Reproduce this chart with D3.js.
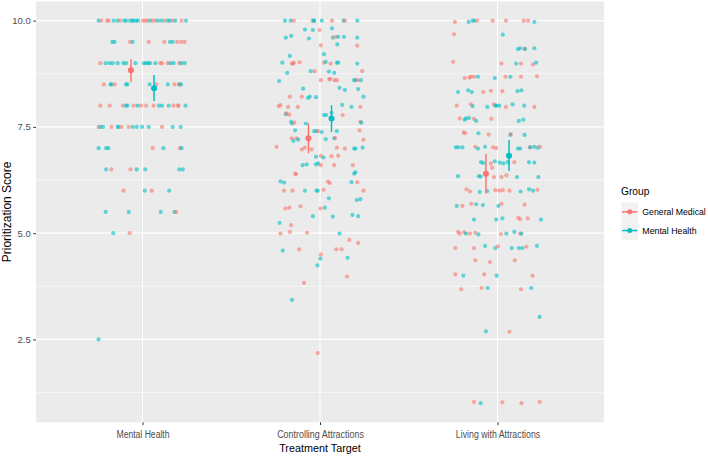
<!DOCTYPE html>
<html><head><meta charset="utf-8">
<script src="https://cdn.jsdelivr.net/npm/d3@7"></script>
<style>body{margin:0;background:#fff;} text{font-family:"Liberation Sans",Arial,sans-serif;}</style>
</head><body><svg id="c" width="708" height="456"></svg>
<script>
const categories = ["Mental Health","Controlling Attractions","Living with Attractions"];
const groups = ["General Medical","Mental Health"];
const groupColors = ["#F8766D","#00BFC4"];
const yTicks = [2.5, 5.0, 7.5, 10.0];
const yMinor = [1.25, 3.75, 6.25, 8.75];

// jittered points: [jitter (fraction of ±0.25 category width), score, group index]
const ptsMentalHealth = [
[-0.99,10,1],[-0.93,10,0],[-0.80,10,0],[-0.76,10,0],[-0.65,10,1],[-0.56,10,1],[-0.50,10,0],[-0.41,10,1],[-0.37,10,1],[-0.28,10,1],[-0.23,10,1],[-0.20,10,1],[-0.14,10,1],[-0.10,10,1],[0.01,10,0],[0.06,10,0],[0.11,10,0],[0.17,10,1],[0.23,10,0],[0.29,10,0],[0.35,10,1],[0.43,10,1],[0.50,10,0],[0.57,10,1],[0.62,10,1],[0.68,10,0],[0.74,10,1],[0.88,10,0],[0.98,10,1],
[-0.68,9.5,1],[-0.63,9.5,1],[-0.28,9.5,0],[-0.22,9.5,1],[0.14,9.5,0],[0.49,9.5,0],[0.62,9.5,1],[0.68,9.5,1],[0.78,9.5,0],[0.87,9.5,0],[0.95,9.5,0],
[-0.95,9,0],[-0.83,9,1],[-0.74,9,1],[-0.67,9,1],[-0.56,9,1],[-0.43,9,1],[-0.37,9,1],[-0.16,9,1],[0.03,9,1],[0.08,9,1],[0.13,9,1],[0.17,9,1],[0.29,9,1],[0.40,9,0],[0.44,9,0],[0.57,9,0],[0.63,9,1],[0.70,9,1],[0.83,9,0],[0.87,9,1],[0.95,9,1],
[-0.87,8.5,0],[-0.72,8.5,1],[-0.70,8.5,1],[-0.63,8.5,0],[-0.37,8.5,1],[-0.34,8.5,1],[0.16,8.5,1],[0.31,8.5,0],[0.57,8.5,1],[0.72,8.5,0],[0.82,8.5,1],[0.84,8.5,0],[0.87,8.5,1],
[-0.95,8,0],[-0.74,8,0],[-0.44,8,0],[-0.37,8,1],[-0.34,8,1],[-0.20,8,0],[-0.11,8,1],[-0.03,8,0],[0.08,8,0],[0.25,8,0],[0.37,8,1],[0.44,8,1],[0.59,8,1],[0.70,8,0],[0.80,8,0],[0.81,8,0],[0.97,8,1],
[-0.99,7.5,0],[-0.95,7.5,1],[-0.89,7.5,1],[-0.70,7.5,0],[-0.56,7.5,1],[-0.54,7.5,1],[-0.47,7.5,0],[-0.31,7.5,0],[-0.22,7.5,1],[-0.13,7.5,1],[-0.01,7.5,1],[0.14,7.5,1],[0.44,7.5,0],[0.68,7.5,1],[0.86,7.5,1],
[-0.99,7,1],[-0.82,7,1],[-0.77,7,1],[0.23,7,0],[0.47,7,1],[0.84,7,0],[0.88,7,1],
[-0.82,6.5,1],[-0.70,6.5,0],[-0.27,6.5,0],[-0.13,6.5,1],[0.06,6.5,1],[0.83,6.5,1],[0.91,6.5,1],
[-0.43,6,0],[0.05,6,1],[0.21,6,0],[0.60,6,1],
[-0.83,5.5,1],[-0.31,5.5,1],[0.41,5.5,1],[0.72,5.5,1],[0.76,5.5,0],
[-0.66,5,1],[-0.29,5,0],
[-0.99,2.5,1]
];
const ptsControlling = [
[-0.79,10,1],[-0.66,10,1],[-0.59,10,0],[-0.17,10,0],[-0.14,10,1],[-0.13,10,1],[0.04,10,1],[0.27,10,0],[0.53,10,1],[0.56,10,0],[0.84,10,1],
[-0.34,9.79,1],[-0.16,9.78,1],[-0.01,9.78,0],[0.27,9.82,1],
[-0.77,9.60,1],[-0.65,9.64,1],[-0.25,9.58,1],[0.29,9.60,1],[0.35,9.62,0],[0.41,9.62,1],[0.54,9.62,1],[0.84,9.60,1],
[0.02,9.42,0],[0.39,9.44,1],[0.84,9.41,0],
[-0.68,9.17,1],[0.09,9.21,1],
[-0.85,9.01,1],[-0.63,8.99,0],[-0.61,8.99,0],[-0.59,9.01,0],[-0.46,9.02,0],[0.09,9.01,0],[0.13,9.03,1],[0.24,8.99,0],[0.38,9.01,1],[0.41,9.01,1],[0.84,8.99,1],
[-0.74,8.77,1],[-0.21,8.81,1],[-0.12,8.81,0],[0.20,8.80,1],[0.32,8.77,1],[0.95,8.81,0],
[-0.92,8.58,1],[0.02,8.60,0],[0.21,8.62,0],[0.23,8.63,0],[0.33,8.60,0],[0.38,8.60,0],[0.77,8.60,1],[0.80,8.60,1],[0.84,8.60,0],[0.92,8.60,1],
[-0.38,8.40,1],[0.44,8.42,1],[0.56,8.37,1],[0.86,8.39,1],
[-0.68,8.21,0],[-0.41,8.21,0],[-0.27,8.18,1],[-0.23,8.21,1],[-0.09,8.20,1],[0.98,8.21,1],
[-0.93,7.99,0],[-0.89,8.01,0],[-0.72,7.97,0],[-0.50,7.97,0],[0.50,8.02,1],[0.71,7.97,1],[0.91,7.97,0],
[-0.77,7.80,1],[-0.76,7.82,0],[-0.69,7.79,0],[0.09,7.78,1],[0.14,7.78,1],[0.26,7.83,1],[0.51,7.78,0],
[-0.65,7.62,1],[-0.63,7.58,1],[-0.58,7.60,0],[-0.32,7.58,1],[0.91,7.62,0],[0.93,7.60,1],
[-0.56,7.42,1],[-0.13,7.40,1],[-0.08,7.40,1],[-0.04,7.40,0],[0.04,7.38,1],[0.38,7.40,1],[0.89,7.42,0],
[-0.64,7.23,0],[-0.60,7.17,1],[-0.53,7.23,0],[-0.49,7.20,1],[0.13,7.21,1],[0.32,7.23,1],[0.34,7.24,0],[0.98,7.20,0],
[-0.98,7.03,0],[-0.41,6.97,0],[-0.34,7.01,0],[-0.19,6.97,0],[0.38,7.01,0],[0.56,6.99,0],[0.77,6.99,1],[0.80,6.99,1],[0.96,7.01,1],
[-0.09,6.80,1],[0.02,6.82,0],[0.08,6.78,1],[0.26,6.81,0],[0.41,6.82,0],
[-0.39,6.60,1],[-0.30,6.62,1],[-0.09,6.62,1],[-0.04,6.64,1],[0.02,6.60,0],[0.32,6.60,0],[0.74,6.60,0],
[-0.56,6.40,0],[-0.54,6.39,0],[0.77,6.40,1],[0.80,6.43,1],
[-0.89,6.22,1],[-0.81,6.19,1],[0.18,6.21,0],[0.22,6.18,0],[0.71,6.20,1],[0.84,6.20,0],
[-0.81,6.00,0],[-0.62,6.00,0],[-0.34,6.00,1],[-0.08,6.00,1],[-0.05,6.00,1],[0.08,6.02,0],[0.98,6.00,0],
[0.20,5.82,1],[0.83,5.78,1],[0.91,5.80,1],
[-0.78,5.58,0],[-0.69,5.60,0],[-0.44,5.63,0],[0.01,5.58,0],[0.11,5.60,1],
[-0.16,5.40,1],[0.29,5.39,1],[0.73,5.43,1],[0.86,5.40,1],
[-0.91,5.24,1],[-0.65,5.19,0],
[-0.89,4.99,0],[-0.68,5.03,0],[-0.29,5.01,0],[0.44,4.99,1],[0.66,4.84,0],[0.86,4.77,0],
[-0.84,4.59,1],[-0.47,4.62,0],[0.37,4.62,0],[0.49,4.62,0],[0.02,4.50,0],[0.01,4.40,1],[0.62,4.42,1],[-0.06,4.24,1],
[0.61,3.98,0],[-0.36,3.83,0],[-0.63,3.43,1],[-0.05,2.18,0]
];
const ptsLiving = [
[-0.96,9.97,0],[-0.65,9.97,1],[-0.56,10,1],[-0.52,10,1],[-0.46,10,0],[-0.11,10,0],[0.19,10,0],[0.59,10,0],[0.69,10,0],[0.83,9.97,1],
[-0.98,9.68,0],[0.12,9.67,1],
[0.46,9.33,1],[0.51,9.35,1],[0.61,9.34,0],[0.62,9.33,1],[0.83,9.35,1],
[-1.0,9.03,0],[0.09,8.99,0],[0.42,8.99,1],[0.53,8.99,0],[0.80,8.97,0],[0.87,9.01,1],
[-0.74,8.65,0],[-0.63,8.66,0],[-0.60,8.68,0],[-0.53,8.68,0],[-0.44,8.68,1],[-0.06,8.65,1],[0.18,8.68,0],[0.29,8.68,1],[0.53,8.68,0],[0.89,8.69,0],
[-0.89,8.32,1],[-0.66,8.36,1],[-0.58,8.32,1],[-0.32,8.32,0],[-0.15,8.35,0],[0.11,8.34,0],[0.45,8.34,1],[0.54,8.36,1],
[-0.92,8.00,0],[-0.60,8.03,0],[-0.56,7.99,1],[-0.23,7.97,1],[-0.08,8.03,0],[-0.05,8.00,1],[-0.02,8.00,1],[0.04,8.00,1],[0.19,7.97,0],[0.34,8.03,1],[0.60,8.00,1],[0.83,7.97,0],
[-0.85,7.70,0],[-0.74,7.67,1],[-0.71,7.70,1],[-0.64,7.71,1],[-0.53,7.69,0],[-0.48,7.64,1],[-0.14,7.69,0],[0.48,7.64,1],[0.58,7.67,1],
[-0.76,7.37,0],[-0.73,7.35,0],[-0.43,7.35,1],[-0.20,7.32,0],[0.29,7.31,1],[0.30,7.33,0],[0.61,7.31,1],
[-0.94,7.02,1],[-0.88,7.02,1],[-0.79,7.02,1],[-0.50,7.03,0],[-0.44,6.99,1],[-0.28,7.03,1],[-0.10,7.02,0],[-0.03,7.00,0],[0.46,6.99,1],[0.51,6.99,1],[0.73,7.02,0],[0.74,7.02,1],[0.83,7.03,1],[0.91,7.01,1],[0.96,7.03,0],
[-0.37,6.67,1],[-0.32,6.65,1],[-0.15,6.64,0],[-0.06,6.69,1],[0.05,6.66,1],[0.13,6.64,1],[0.23,6.67,1],[0.38,6.67,0],[0.71,6.67,1],[0.83,6.66,1],
[-0.12,6.54,0],
[-0.89,6.34,1],[-0.42,6.34,1],[-0.38,6.33,1],[-0.08,6.32,0],[0.09,6.32,0],[0.20,6.36,0],[0.44,6.32,1],[0.92,6.32,1],
[-0.70,6.03,0],[-0.62,5.98,0],[-0.40,5.97,1],[-0.23,5.99,1],[-0.05,6.01,0],[0.04,6.00,0],[0.12,6.01,0],[0.27,6.00,0],[0.52,5.98,1],[0.71,6.03,1],[0.80,6.00,1],[0.90,6.02,0],
[-0.92,5.64,1],[-0.79,5.64,0],[-0.59,5.69,0],[-0.48,5.68,1],[-0.33,5.66,1],[0.02,5.64,1],[0.09,5.69,0],[0.61,5.67,0],
[-0.53,5.32,1],[-0.03,5.32,1],[0.11,5.35,1],[0.47,5.36,0],[0.51,5.33,0],[0.68,5.35,0],[0.98,5.32,1],
[-0.89,5.03,0],[-0.85,4.99,0],[-0.75,5.02,0],[-0.71,4.99,1],[-0.62,4.99,0],[-0.50,5.01,0],[-0.43,4.97,1],[0.08,4.98,0],[0.20,4.99,1],[0.38,5.03,1],[0.51,4.99,0],[0.54,4.99,1],
[-0.95,4.65,0],[-0.53,4.65,0],[-0.28,4.70,1],[-0.05,4.65,1],[0.01,4.69,0],[0.32,4.65,1],[0.48,4.65,1],[0.56,4.65,1],[0.65,4.68,0],[0.89,4.70,1],
[-0.50,4.36,0],[-0.17,4.32,0],[0.39,4.36,0],
[-0.95,4.03,0],[-0.77,4.00,1],[-0.30,4.03,0],[-0.02,4.00,1],[0.79,4.00,0],
[-0.82,3.68,0],[-0.36,3.71,0],[-0.22,3.71,1],[0.53,3.68,0],[0.76,3.71,1],
[0.95,3.03,1],[-0.26,2.69,1],[0.27,2.68,0],
[-0.53,1.03,0],[-0.38,1.00,1],[0.11,1.02,0],[0.54,1.00,0],[0.95,1.03,0]
];
// group means with error bars, per category
const meanGM = [8.83, 7.23, 6.40];
const lowGM  = [8.55, 6.88, 5.93];
const highGM = [9.09, 7.59, 6.86];
const meanMH = [8.41, 7.70, 6.82];
const lowMH  = [8.11, 7.38, 6.46];
const highMH = [8.72, 8.01, 7.19];

const svg = d3.select("#c");
const L = 36, R = 604, T = 1.5, B = 422.3;
const x = d3.scalePoint().domain(categories).range([L, R]).padding(0.6);
const y = d3.scaleLinear().domain([0.55, 10.45]).range([B, T]);
const step = x.step();
const jitterW = 0.25, dodgeW = 0.065;

svg.append("rect").attr("x", L).attr("y", T).attr("width", R - L).attr("height", B - T).attr("fill", "#EBEBEB");
const grid = svg.append("g");
yMinor.forEach(v => grid.append("line").attr("x1", L).attr("x2", R).attr("y1", y(v)).attr("y2", y(v)).attr("stroke", "#fff").attr("stroke-width", 0.55));
yTicks.forEach(v => grid.append("line").attr("x1", L).attr("x2", R).attr("y1", y(v)).attr("y2", y(v)).attr("stroke", "#fff").attr("stroke-width", 1.1));
categories.forEach(c => grid.append("line").attr("x1", x(c)).attr("x2", x(c)).attr("y1", T).attr("y2", B).attr("stroke", "#fff").attr("stroke-width", 1.1));

const all = [];
[ptsMentalHealth, ptsControlling, ptsLiving].forEach((arr, ci) => arr.forEach(p => all.push({c: categories[ci], j: p[0], v: p[1], g: p[2]})));
svg.append("g").selectAll("circle").data(all).join("circle")
  .attr("cx", d => x(d.c) + d.j * jitterW * step)
  .attr("cy", d => y(d.v))
  .attr("r", 2.1)
  .attr("fill", d => groupColors[d.g])
  .attr("fill-opacity", 0.6);

const summ = [];
categories.forEach((c, i) => {
  summ.push({c, g: 0, m: meanGM[i], lo: lowGM[i], hi: highGM[i]});
  summ.push({c, g: 1, m: meanMH[i], lo: lowMH[i], hi: highMH[i]});
});
const sg = svg.append("g");
summ.forEach(d => {
  const cx = x(d.c) + (d.g === 0 ? -1 : 1) * dodgeW * step;
  sg.append("line").attr("x1", cx).attr("x2", cx).attr("y1", y(d.lo)).attr("y2", y(d.hi))
    .attr("stroke", groupColors[d.g]).attr("stroke-width", 1.5);
  sg.append("circle").attr("cx", cx).attr("cy", y(d.m)).attr("r", 3).attr("fill", groupColors[d.g]);
});

// axes
const yAxis = svg.append("g").attr("transform", `translate(${L},0)`)
  .call(d3.axisLeft(y).tickValues(yTicks).tickFormat(d3.format(".1f")).tickSize(2.75).tickPadding(2.5));
yAxis.select(".domain").remove();
yAxis.selectAll("line").attr("stroke", "#333333");
yAxis.selectAll("text").attr("fill", "#4D4D4D").style("font-size", "9.5px").style("font-family", "Liberation Sans, Arial, sans-serif");

const xLabelW = {"Mental Health": 53, "Controlling Attractions": 86.7, "Living with Attractions": 84.3};
const xAxis = svg.append("g").attr("transform", `translate(0,${B})`)
  .call(d3.axisBottom(x).tickSize(2.75).tickPadding(3));
xAxis.select(".domain").remove();
xAxis.selectAll("line").attr("stroke", "#333333");
xAxis.selectAll("text").attr("fill", "#4D4D4D").style("font-size", "10px").style("font-family", "Liberation Sans, Arial, sans-serif")
  .attr("dy", null).attr("y", 16)
  .attr("textLength", d => xLabelW[d]).attr("lengthAdjust", "spacingAndGlyphs");

svg.append("text").attr("x", (L + R) / 2).attr("y", 452.3).attr("text-anchor", "middle")
  .style("font-size", "11.5px").attr("fill", "#000").attr("textLength", 81.7).attr("lengthAdjust", "spacingAndGlyphs")
  .text("Treatment Target");
svg.append("text").attr("transform", `translate(11.3,${(T + B) / 2}) rotate(-90)`).attr("text-anchor", "middle")
  .style("font-size", "12px").attr("fill", "#000").text("Prioritization Score");

// legend
const lg = svg.append("g");
lg.append("text").attr("x", 621).attr("y", 195).style("font-size", "11.5px").attr("fill", "#000")
  .attr("textLength", 28.3).attr("lengthAdjust", "spacingAndGlyphs").text("Group");
const legW = [63.5, 54.3];
groups.forEach((g, i) => {
  const ky = 202.5 + i * 18.7;
  lg.append("rect").attr("x", 621.5).attr("y", ky).attr("width", 16.5).attr("height", 18.7).attr("fill", "#F2F2F2");
  lg.append("line").attr("x1", 622).attr("x2", 637.5).attr("y1", ky + 9.35).attr("y2", ky + 9.35)
    .attr("stroke", groupColors[i]).attr("stroke-width", 1.5);
  lg.append("circle").attr("cx", 629.75).attr("cy", ky + 9.35).attr("r", 2.5).attr("fill", groupColors[i]);
  lg.append("text").attr("x", 642.3).attr("y", ky + 12.6).style("font-size", "8.8px").attr("fill", "#000")
    .attr("textLength", legW[i]).attr("lengthAdjust", "spacingAndGlyphs").text(g);
});
</script></body></html>
